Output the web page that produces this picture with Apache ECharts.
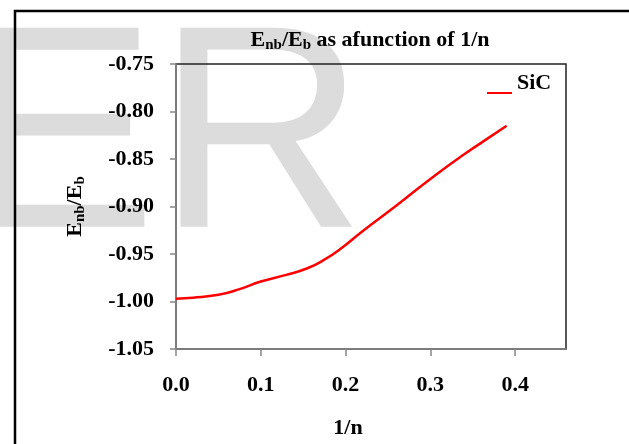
<!DOCTYPE html>
<html>
<head>
<meta charset="utf-8">
<script src="https://cdn.jsdelivr.net/npm/echarts@6/dist/echarts.min.js"></script>
<style>
	html, body { margin: 0; padding: 0; background: #fff; }
	#chart { width: 629px; height: 444px; }
</style>
</head>
<body>
<div id="chart"></div>
<script>
// 1/n 与 Enb/Eb
var invN = [0, 0.02, 0.05, 0.075, 0.1, 0.13, 0.155, 0.175, 0.195, 0.22, 0.26, 0.30, 0.34, 0.37, 0.39];
var ratio = [-0.997, -0.996, -0.993, -0.987, -0.979, -0.972, -0.965, -0.956, -0.944, -0.926, -0.899, -0.871, -0.845, -0.827, -0.815];
var xTicks = [0, 0.1, 0.2, 0.3, 0.4];
var yTicks = [-1.05, -1.00, -0.95, -0.90, -0.85, -0.80, -0.75];
var seriesName = 'SiC';

var serif = '"Liberation Serif", "Times New Roman", serif';

var points = [];
for (var i = 0; i < invN.length; i++) {
	points.push([invN[i], ratio[i]]);
}

var richSub = {
	b: { fontFamily: serif, fontWeight: 'bold', fontSize: 22, color: '#000', verticalAlign: 'top', lineHeight: 24 },
	s: { fontFamily: serif, fontWeight: 'bold', fontSize: 15, color: '#000', verticalAlign: 'top', lineHeight: 24, padding: [9, 0, 0, 0] }
};

var myChart = echarts.init(document.getElementById('chart'));
var option = {
	backgroundColor: '#fff',
	animation: false,
	title: {
		text: '{b|E}{s|nb}{b|/E}{s|b}{b| as afunction of 1/n}',
		left: 365,
		top: 24,
		textAlign: 'center',
		textStyle: { rich: richSub }
	},
	legend: {
		data: [seriesName],
		left: 482,
		top: 67,
		icon: 'rect',
		itemWidth: 25,
		itemHeight: 2,
		itemGap: 2,
		// 文字放在线的上方
		formatter: function (name) { return '{a|' + name + '}\n{a| }'; },
		textStyle: {
			rich: {
				a: { fontFamily: serif, fontWeight: 'bold', fontSize: 22, color: '#000', lineHeight: 20 }
			}
		}
	},
	graphic: [
		{
			type: 'text',
			z: -10,
			silent: true,
			style: {
				text: 'ER',
				x: -36,
				y: 147,
				verticalAlign: 'middle',
				fontFamily: '"Liberation Sans", Arial, sans-serif',
				fontSize: 289,
				fill: '#dcdcdc'
			}
		},
		{
			type: 'polyline',
			z: 10,
			silent: true,
			shape: { points: [[15, 444], [15, 11], [629, 11]] },
			style: { stroke: '#000', lineWidth: 2.5, fill: null }
		}
	],
	grid: {
		left: 176,
		top: 64,
		right: 63,
		bottom: 94,
		show: true,
		borderColor: '#222',
		borderWidth: 1.5,
		backgroundColor: 'transparent'
	},
	xAxis: {
		type: 'value',
		min: 0,
		max: 0.46,
		interval: 0.1,
		name: '1/n',
		nameLocation: 'middle',
		nameGap: 68,
		nameTextStyle: {
			fontFamily: serif,
			fontWeight: 'bold',
			fontSize: 22,
			color: '#000',
			padding: [0, 46, 0, 0]
		},
		axisLine: { show: true, lineStyle: { color: '#888', width: 1.5 } },
		axisTick: { show: true, customValues: xTicks, length: 7, lineStyle: { color: '#888', width: 1.5 } },
		axisLabel: {
			customValues: xTicks,
			margin: 25,
			fontFamily: serif,
			fontWeight: 'bold',
			fontSize: 22,
			color: '#000',
			formatter: function (v) { return v.toFixed(1); }
		},
		splitLine: { show: false }
	},
	yAxis: {
		type: 'value',
		min: -1.05,
		max: -0.75,
		interval: 0.05,
		name: '{b|E}{s|nb}{b|/E}{s|b}',
		nameLocation: 'middle',
		nameGap: 88,
		nameRotate: 90,
		nameTextStyle: { rich: richSub },
		axisLine: { show: true, lineStyle: { color: '#888', width: 1.5 } },
		axisTick: { show: true, customValues: yTicks, length: 6, lineStyle: { color: '#888', width: 1.5 } },
		axisLabel: {
			customValues: yTicks,
			margin: 22,
			fontFamily: serif,
			fontWeight: 'bold',
			fontSize: 22,
			color: '#000',
			formatter: function (v) { return v.toFixed(2); }
		},
		splitLine: { show: false }
	},
	series: [
		{
			name: seriesName,
			type: 'line',
			data: points,
			smooth: true,
			showSymbol: false,
			color: '#ff0000',
			lineStyle: { color: '#ff0000', width: 2.5 }
		}
	]
};
myChart.setOption(option);
</script>
</body>
</html>
